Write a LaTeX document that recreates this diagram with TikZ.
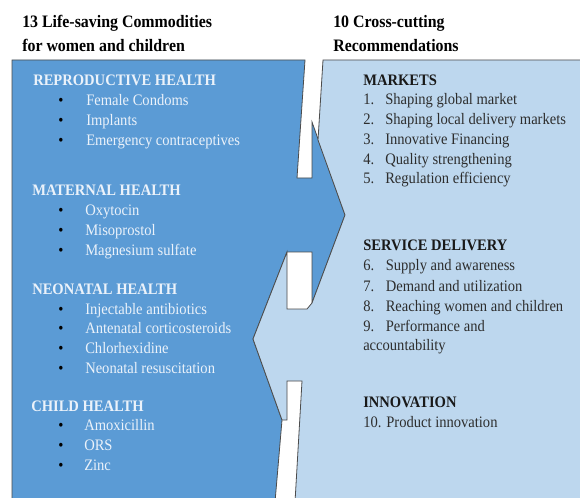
\documentclass[tikz,border=0pt]{standalone}
\usepackage{fontspec}
\setmainfont[FakeStretch=0.91]{Liberation Serif}
\definecolor{darkb}{RGB}{91,155,213}
\definecolor{lightb}{RGB}{189,215,238}
\definecolor{ltext}{RGB}{235,242,250}
\definecolor{rtext}{RGB}{45,45,45}
\tikzset{
  shapeline/.style={draw=black!70, line width=0.6pt, line join=miter},
  hdr/.style={anchor=base west, inner sep=0pt, font=\fontsize{13.1}{15}\selectfont\bfseries, text=black},
  lhead/.style={anchor=base west, inner sep=0pt, font=\fontsize{12}{14}\selectfont\bfseries, text=ltext},
  litem/.style={anchor=base west, inner sep=0pt, font=\fontsize{12}{14}\selectfont, text=ltext},
  bul/.style={anchor=base west, inner sep=0pt, font=\fontsize{12}{14}\selectfont, text=black},
  rhead/.style={anchor=base west, inner sep=0pt, font=\fontsize{12}{14}\selectfont\bfseries, text=black!90},
  ritem/.style={anchor=base west, inner sep=0pt, font=\fontsize{12}{14}\selectfont, text=rtext}
}
\begin{document}
\begin{tikzpicture}[x=0.75pt,y=-0.75pt]
\fill[white] (0,0) rectangle (580,498);
\clip (0,0) rectangle (580,498);
% left (dark) shape with right-pointing arrow
\path[shapeline, fill=darkb] (12,60) -- (305,60) -- (297,178) -- (312,178) -- (312,122)
  -- (345,215) -- (312,303) -- (312,252) -- (287,252) -- (253,339) -- (282,420)
  -- (275,502) -- (12,502) -- cycle;
% right (light) shape with left-pointing arrow
\path[shapeline, fill=lightb] (323,60) -- (584,60) -- (584,502) -- (295,502) -- (302,381)
  -- (287,381) -- (287,420) -- (282,420) -- (253,339) -- (287,252) -- (287,309)
  -- (307,309) -- (312,303) -- (345,215) -- (318,140) -- cycle;

% headers
\node[hdr] (h1a) at (22,27.3) {13 Life-saving Commodities};
\node[hdr] (h1b) at (22,51.7) {for women and children};
\node[hdr] (h2a) at (333,27.3) {10 Cross-cutting};
\node[hdr] (h2b) at (333,51.7) {Recommendations};

% left content
\node[lhead] (rh) at (33,86) {REPRODUCTIVE HEALTH};
\node[bul] (b1) at (58,105.7) {\textbullet}; \node[litem] (i1) at (86,105.7) {Female Condoms};
\node[bul] (b2) at (58,125.7) {\textbullet}; \node[litem] (i2) at (86,125.7) {Implants};
\node[bul] (b3) at (58,145.7) {\textbullet}; \node[litem] (i3) at (86,145.7) {Emergency contraceptives};

\node[lhead] (mh) at (32,195.7) {MATERNAL HEALTH};
\node[bul] (b4) at (58,215.7) {\textbullet}; \node[litem] (i4) at (85,215.7) {Oxytocin};
\node[bul] (b5) at (58,235.7) {\textbullet}; \node[litem] (i5) at (85,235.7) {Misoprostol};
\node[bul] (b6) at (58,255.7) {\textbullet}; \node[litem] (i6) at (85,255.7) {Magnesium sulfate};

\node[lhead] (nh) at (32,294.3) {NEONATAL HEALTH};
\node[bul] (b7) at (58,314) {\textbullet}; \node[litem] (i7) at (85,314) {Injectable antibiotics};
\node[bul] (b8) at (58,333.6) {\textbullet}; \node[litem] (i8) at (85,333.6) {Antenatal corticosteroids};
\node[bul] (b9) at (58,353.3) {\textbullet}; \node[litem] (i9) at (85,353.3) {Chlorhexidine};
\node[bul] (b10) at (58,373.3) {\textbullet}; \node[litem] (i10) at (85,373.3) {Neonatal resuscitation};

\node[lhead] (ch) at (31,411.7) {CHILD HEALTH};
\node[bul] (b11) at (58,430.7) {\textbullet}; \node[litem] (i11) at (84,430.7) {Amoxicillin};
\node[bul] (b12) at (58,450.3) {\textbullet}; \node[litem] (i12) at (84,450.3) {ORS};
\node[bul] (b13) at (58,470.5) {\textbullet}; \node[litem] (i13) at (84,470.5) {Zinc};

% right content
\node[rhead] (mk) at (363,85.7) {MARKETS};
\node[ritem] (n1) at (363,105) {1.}; \node[ritem] (r1) at (385,105) {Shaping global market};
\node[ritem] (n2) at (363,125) {2.}; \node[ritem] (r2) at (385,125) {Shaping local delivery markets};
\node[ritem] (n3) at (363,145) {3.}; \node[ritem] (r3) at (385,145) {Innovative Financing};
\node[ritem] (n4) at (363,164.3) {4.}; \node[ritem] (r4) at (385,164.3) {Quality strengthening};
\node[ritem] (n5) at (363,183.5) {5.}; \node[ritem] (r5) at (385,183.5) {Regulation efficiency};

\node[rhead] (sd) at (363,251) {SERVICE DELIVERY};
\node[ritem] (n6) at (363,271) {6.}; \node[ritem] (r6) at (385.5,271) {Supply and awareness};
\node[ritem] (n7) at (363,291.3) {7.}; \node[ritem] (r7) at (385.5,291.3) {Demand and utilization};
\node[ritem] (n8) at (363,311) {8.}; \node[ritem] (r8) at (385.5,311) {Reaching women and children};
\node[ritem] (n9) at (363,331) {9.}; \node[ritem] (r9) at (385.5,331) {Performance and};
\node[ritem] (r9b) at (363,350) {accountability};

\node[rhead] (in) at (363,407.7) {INNOVATION};
\node[ritem] (r10) at (363,427.7) {10. Product innovation};
\end{tikzpicture}
\end{document}
